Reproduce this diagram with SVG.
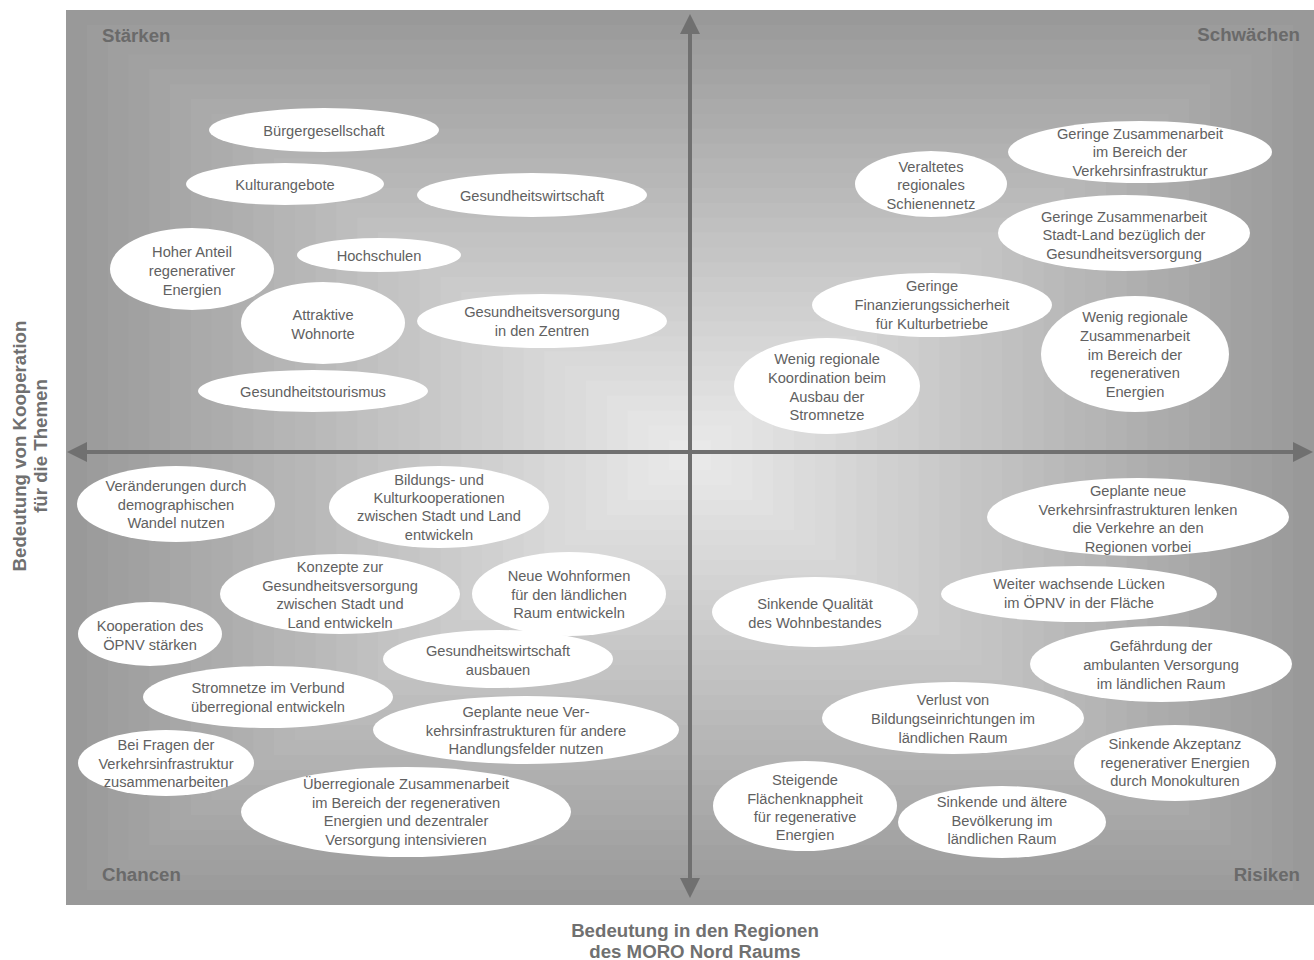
<svg xmlns="http://www.w3.org/2000/svg" width="1314" height="960" viewBox="0 0 1314 960">
<defs>
<style>
.n ellipse{fill:#ffffff}
.n text{font-family:"Liberation Sans",Arial,sans-serif;font-size:14.67px;fill:#616161;text-anchor:middle}
.lbl{font-family:"Liberation Sans",Arial,sans-serif;font-size:18.67px;font-weight:bold;fill:#6a6a6a}
.ttl{font-family:"Liberation Sans",Arial,sans-serif;font-size:18.67px;font-weight:bold;fill:#707070;text-anchor:middle}
.axis{stroke:#707070;stroke-width:4;fill:none;marker-start:url(#arr);marker-end:url(#arr)}
</style>
<marker id="arr" viewBox="0 0 20 20" markerWidth="20" markerHeight="20" markerUnits="userSpaceOnUse" refX="4" refY="10" orient="auto-start-reverse">
<path d="M0,0 L20,10 L0,20 z" fill="#707070"/>
</marker>
</defs>
<rect width="1314" height="960" fill="#ffffff"/>
<g id="background">
<rect x="66" y="10" width="1248" height="895" fill="#999999"/>
<rect x="86.8" y="24.8" width="1206.4" height="865.2" fill="#9c9c9c"/>
<rect x="107.6" y="39.7" width="1164.8" height="835.3" fill="#9f9f9f"/>
<rect x="128.4" y="54.5" width="1123.2" height="805.5" fill="#a1a1a1"/>
<rect x="149.2" y="69.3" width="1081.6" height="775.7" fill="#a4a4a4"/>
<rect x="170" y="84.2" width="1040" height="745.8" fill="#a7a7a7"/>
<rect x="190.8" y="99" width="998.4" height="716" fill="#aaaaaa"/>
<rect x="211.6" y="113.8" width="956.8" height="686.2" fill="#acacac"/>
<rect x="232.4" y="128.7" width="915.2" height="656.3" fill="#afafaf"/>
<rect x="253.2" y="143.5" width="873.6" height="626.5" fill="#b2b2b2"/>
<rect x="274" y="158.3" width="832" height="596.7" fill="#b5b5b5"/>
<rect x="294.8" y="173.2" width="790.4" height="566.8" fill="#b7b7b7"/>
<rect x="315.6" y="188" width="748.8" height="537" fill="#bababa"/>
<rect x="336.4" y="202.8" width="707.2" height="507.2" fill="#bdbdbd"/>
<rect x="357.2" y="217.7" width="665.6" height="477.3" fill="#c0c0c0"/>
<rect x="378" y="232.5" width="624" height="447.5" fill="#c3c3c3"/>
<rect x="398.8" y="247.3" width="582.4" height="417.7" fill="#c5c5c5"/>
<rect x="419.6" y="262.2" width="540.8" height="387.8" fill="#c8c8c8"/>
<rect x="440.4" y="277" width="499.2" height="358" fill="#cbcbcb"/>
<rect x="461.2" y="291.8" width="457.6" height="328.2" fill="#cecece"/>
<rect x="482" y="306.7" width="416" height="298.3" fill="#d0d0d0"/>
<rect x="502.8" y="321.5" width="374.4" height="268.5" fill="#d3d3d3"/>
<rect x="523.6" y="336.3" width="332.8" height="238.7" fill="#d6d6d6"/>
<rect x="544.4" y="351.2" width="291.2" height="208.8" fill="#d9d9d9"/>
<rect x="565.2" y="366" width="249.6" height="179" fill="#dbdbdb"/>
<rect x="586" y="380.8" width="208" height="149.2" fill="#dedede"/>
<rect x="606.8" y="395.7" width="166.4" height="119.3" fill="#e1e1e1"/>
<rect x="627.6" y="410.5" width="124.8" height="89.5" fill="#e4e4e4"/>
<rect x="648.4" y="425.3" width="83.2" height="59.7" fill="#e6e6e6"/>
<rect x="669.2" y="440.2" width="41.6" height="29.8" fill="#e9e9e9"/>
</g>
<g id="connectors">
<line class="axis" x1="690" y1="30" x2="690" y2="882"/>
<line class="axis" x1="83" y1="452" x2="1297" y2="452"/>
</g>
<g id="labels">
<text class="lbl" x="102" y="42">Stärken</text>
<text class="lbl" x="1300" y="41" text-anchor="end">Schwächen</text>
<text class="lbl" x="102" y="881">Chancen</text>
<text class="lbl" x="1300" y="881" text-anchor="end">Risiken</text>
<text class="ttl" x="695" y="937">Bedeutung in den Regionen</text>
<text class="ttl" x="695" y="958">des MORO Nord Raums</text>
<text class="ttl" transform="translate(26,446) rotate(-90)">Bedeutung von Kooperation</text>
<text class="ttl" transform="translate(47,446) rotate(-90)">für die Themen</text>
</g>
<g id="n1" class="n"><ellipse cx="324" cy="130" rx="115" ry="22"/><text x="324" y="136">Bürgergesellschaft</text></g>
<g id="n2" class="n"><ellipse cx="285" cy="184" rx="99" ry="21"/><text x="285" y="190">Kulturangebote</text></g>
<g id="n3" class="n"><ellipse cx="532" cy="195" rx="115" ry="22"/><text x="532" y="201">Gesundheitswirtschaft</text></g>
<g id="n4" class="n"><ellipse cx="192" cy="269" rx="82" ry="41"/><text x="192" y="257">Hoher Anteil<tspan x="192" y="276">regenerativer</tspan><tspan x="192" y="295">Energien</tspan></text></g>
<g id="n5" class="n"><ellipse cx="379" cy="255" rx="82" ry="17"/><text x="379" y="261">Hochschulen</text></g>
<g id="n6" class="n"><ellipse cx="323" cy="323" rx="82" ry="41"/><text x="323" y="320">Attraktive<tspan x="323" y="339">Wohnorte</tspan></text></g>
<g id="n7" class="n"><ellipse cx="542" cy="321" rx="125" ry="27"/><text x="542" y="317">Gesundheitsversorgung<tspan x="542" y="336">in den Zentren</tspan></text></g>
<g id="n8" class="n"><ellipse cx="313" cy="391" rx="115" ry="21"/><text x="313" y="397">Gesundheitstourismus</text></g>
<g id="n9" class="n"><ellipse cx="931" cy="184" rx="76" ry="33"/><text x="931" y="172">Veraltetes<tspan x="931" y="190">regionales</tspan><tspan x="931" y="209">Schienennetz</tspan></text></g>
<g id="n10" class="n"><ellipse cx="1140" cy="152" rx="132" ry="31"/><text x="1140" y="139">Geringe Zusammenarbeit<tspan x="1140" y="157">im Bereich der</tspan><tspan x="1140" y="176">Verkehrsinfrastruktur</tspan></text></g>
<g id="n11" class="n"><ellipse cx="1124" cy="233" rx="126" ry="38"/><text x="1124" y="222">Geringe Zusammenarbeit<tspan x="1124" y="240">Stadt-Land bezüglich der</tspan><tspan x="1124" y="259">Gesundheitsversorgung</tspan></text></g>
<g id="n12" class="n"><ellipse cx="932" cy="305" rx="120" ry="32"/><text x="932" y="291">Geringe<tspan x="932" y="310">Finanzierungssicherheit</tspan><tspan x="932" y="329">für Kulturbetriebe</tspan></text></g>
<g id="n13" class="n"><ellipse cx="1135" cy="354" rx="94" ry="58"/><text x="1135" y="322">Wenig regionale<tspan x="1135" y="341">Zusammenarbeit</tspan><tspan x="1135" y="360">im Bereich der</tspan><tspan x="1135" y="378">regenerativen</tspan><tspan x="1135" y="397">Energien</tspan></text></g>
<g id="n14" class="n"><ellipse cx="827" cy="386" rx="93" ry="48"/><text x="827" y="364">Wenig regionale<tspan x="827" y="383">Koordination beim</tspan><tspan x="827" y="402">Ausbau der</tspan><tspan x="827" y="420">Stromnetze</tspan></text></g>
<g id="n15" class="n"><ellipse cx="176" cy="504" rx="99" ry="38"/><text x="176" y="491">Veränderungen durch<tspan x="176" y="510">demographischen</tspan><tspan x="176" y="528">Wandel nutzen</tspan></text></g>
<g id="n16" class="n"><ellipse cx="439" cy="507" rx="110" ry="41"/><text x="439" y="485">Bildungs- und<tspan x="439" y="503">Kulturkooperationen</tspan><tspan x="439" y="521">zwischen Stadt und Land</tspan><tspan x="439" y="540">entwickeln</tspan></text></g>
<g id="n17" class="n"><ellipse cx="340" cy="594" rx="120" ry="40"/><text x="340" y="572">Konzepte zur<tspan x="340" y="591">Gesundheitsversorgung</tspan><tspan x="340" y="609">zwischen Stadt und</tspan><tspan x="340" y="628">Land entwickeln</tspan></text></g>
<g id="n18" class="n"><ellipse cx="569" cy="594" rx="97" ry="42"/><text x="569" y="581">Neue Wohnformen<tspan x="569" y="600">für den ländlichen</tspan><tspan x="569" y="618">Raum entwickeln</tspan></text></g>
<g id="n19" class="n"><ellipse cx="150" cy="634" rx="72" ry="32"/><text x="150" y="631">Kooperation des<tspan x="150" y="650">ÖPNV stärken</tspan></text></g>
<g id="n20" class="n"><ellipse cx="498" cy="659" rx="115" ry="29"/><text x="498" y="656">Gesundheitswirtschaft<tspan x="498" y="675">ausbauen</tspan></text></g>
<g id="n21" class="n"><ellipse cx="268" cy="697" rx="125" ry="31"/><text x="268" y="693">Stromnetze im Verbund<tspan x="268" y="712">überregional entwickeln</tspan></text></g>
<g id="n22" class="n"><ellipse cx="526" cy="730" rx="153" ry="34"/><text x="526" y="717">Geplante neue Ver-<tspan x="526" y="736">kehrsinfrastrukturen für andere</tspan><tspan x="526" y="754">Handlungsfelder nutzen</tspan></text></g>
<g id="n23" class="n"><ellipse cx="166" cy="763" rx="88" ry="33"/><text x="166" y="750">Bei Fragen der<tspan x="166" y="769">Verkehrsinfrastruktur</tspan><tspan x="166" y="787">zusammenarbeiten</tspan></text></g>
<g id="n24" class="n"><ellipse cx="406" cy="812" rx="165" ry="45"/><text x="406" y="789">Überregionale Zusammenarbeit<tspan x="406" y="808">im Bereich der regenerativen</tspan><tspan x="406" y="826">Energien und dezentraler</tspan><tspan x="406" y="845">Versorgung intensivieren</tspan></text></g>
<g id="n25" class="n"><ellipse cx="1138" cy="517" rx="151" ry="39"/><text x="1138" y="496">Geplante neue<tspan x="1138" y="515">Verkehrsinfrastrukturen lenken</tspan><tspan x="1138" y="533">die Verkehre an den</tspan><tspan x="1138" y="552">Regionen vorbei</tspan></text></g>
<g id="n26" class="n"><ellipse cx="1079" cy="594" rx="138" ry="28"/><text x="1079" y="589">Weiter wachsende Lücken<tspan x="1079" y="608">im ÖPNV in der Fläche</tspan></text></g>
<g id="n27" class="n"><ellipse cx="815" cy="612" rx="103" ry="35"/><text x="815" y="609">Sinkende Qualität<tspan x="815" y="628">des Wohnbestandes</tspan></text></g>
<g id="n28" class="n"><ellipse cx="1161" cy="664" rx="131" ry="38"/><text x="1161" y="651">Gefährdung der<tspan x="1161" y="670">ambulanten Versorgung</tspan><tspan x="1161" y="689">im ländlichen Raum</tspan></text></g>
<g id="n29" class="n"><ellipse cx="953" cy="718" rx="131" ry="36"/><text x="953" y="705">Verlust von<tspan x="953" y="724">Bildungseinrichtungen im</tspan><tspan x="953" y="743">ländlichen Raum</tspan></text></g>
<g id="n30" class="n"><ellipse cx="1175" cy="763" rx="101" ry="38"/><text x="1175" y="749">Sinkende Akzeptanz<tspan x="1175" y="768">regenerativer Energien</tspan><tspan x="1175" y="786">durch Monokulturen</tspan></text></g>
<g id="n31" class="n"><ellipse cx="805" cy="806" rx="92" ry="45"/><text x="805" y="785">Steigende<tspan x="805" y="804">Flächenknappheit</tspan><tspan x="805" y="822">für regenerative</tspan><tspan x="805" y="840">Energien</tspan></text></g>
<g id="n32" class="n"><ellipse cx="1002" cy="822" rx="104" ry="36"/><text x="1002" y="807">Sinkende und ältere<tspan x="1002" y="826">Bevölkerung im</tspan><tspan x="1002" y="844">ländlichen Raum</tspan></text></g>
</svg>
